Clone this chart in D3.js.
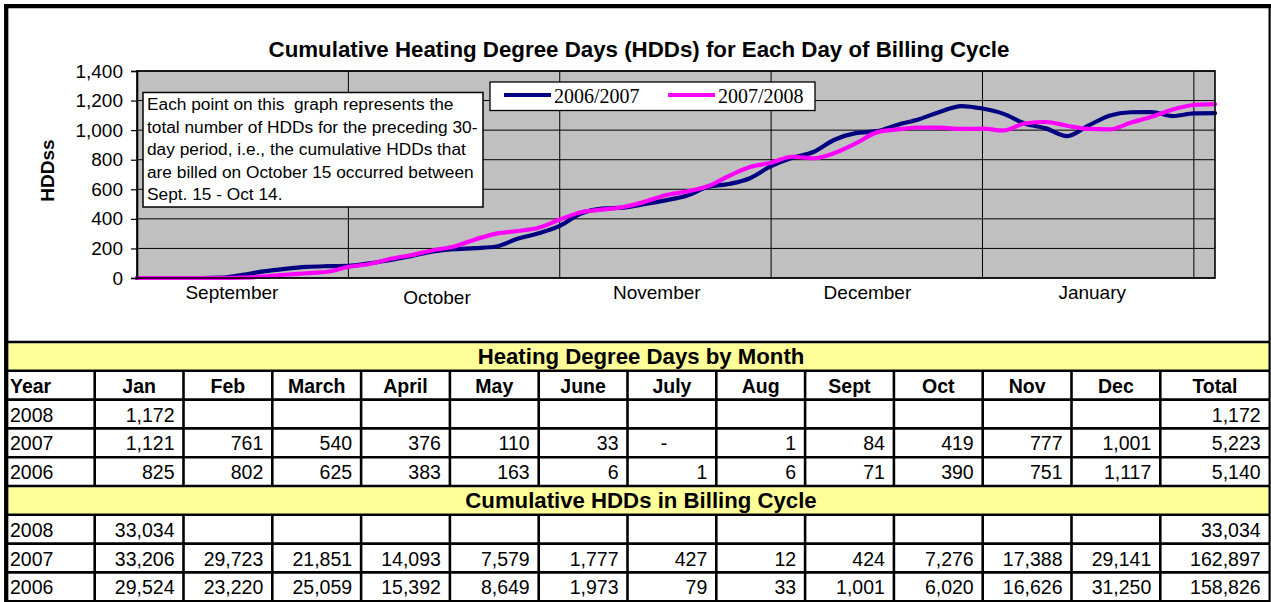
<!DOCTYPE html>
<html>
<head>
<meta charset="utf-8">
<script src="https://cdn.jsdelivr.net/npm/d3@7"></script>
<style>
  html, body { margin: 0; padding: 0; background: #fff; }
  svg { display: block; }
</style>
</head>
<body>
<div id="chart"></div>
<script>
// ---------- DATA ----------
const chartTitle = "Cumulative Heating Degree Days (HDDs) for Each Day of Billing Cycle";
const yTitle = "HDDss";
const seriesNames = ["2006/2007", "2007/2008"];
// day index within billing chart (0 = start of September)
const days = [0,3,6,9,12,15,18,21,24,27,30,33,36,39,42,45,48,51,54,57,60,63,66,69,72,75,78,81,84,87,90,93,96,99,102,105,108,111,114,117,120,123,126,129,132,135,138,141,144,147,150,153];
const hdd0607 = [0,0,0,0,2,22,45,62,75,80,82,100,122,150,179,195,202,213,265,302,352,436,470,476,500,525,556,615,636,675,756,813,852,935,980,993,1037,1074,1125,1163,1146,1110,1045,1012,960,1030,1098,1121,1122,1095,1113,1115];
const hdd0708 = [0,0,0,0,0,2,10,22,32,42,75,95,130,156,188,213,261,300,318,340,395,445,462,480,515,560,585,620,690,750,780,820,810,845,910,985,1005,1018,1017,1008,1010,998,1045,1055,1030,1008,1005,1050,1090,1140,1170,1176];
const yTicks = [0,200,400,600,800,1000,1200,1400];
const monthGridDays = [30,60,90,120,150];
const monthLabels = ["September","October","November","December","January"];
const monthLabelDays = [13.4,42.5,73.7,103.6,135.5];
const noteLines = [
  "Each point on this  graph represents the",
  "total number of HDDs for the preceding 30-",
  "day period, i.e., the cumulative HDDs that",
  "are billed on October 15 occurred between",
  "Sept. 15 - Oct 14."
];

const tableTitle1 = "Heating Degree Days by Month";
const tableTitle2 = "Cumulative HDDs in Billing Cycle";
const tableMonths = ["Jan","Feb","March","April","May","June","July","Aug","Sept","Oct","Nov","Dec"];
const years = ["2008","2007","2006"];
const monthly2008 = [1172,null,null,null,null,null,null,null,null,null,null,null];
const monthly2007 = [1121,761,540,376,110,33,0,1,84,419,777,1001];
const monthly2006 = [825,802,625,383,163,6,1,6,71,390,751,1117];
const monthlyTotals = [1172,5223,5140];
const cum2008 = [33034,null,null,null,null,null,null,null,null,null,null,null];
const cum2007 = [33206,29723,21851,14093,7579,1777,427,12,424,7276,17388,29141];
const cum2006 = [29524,23220,25059,15392,8649,1973,79,33,1001,6020,16626,31250];
const cumTotals = [33034,162897,158826];

// ---------- DRAW ----------
const W = 1271, H = 602;
const SANS = "'Liberation Sans', Arial, sans-serif";
const SERIF = "'Liberation Serif', 'Times New Roman', serif";

const svg = d3.select("#chart").append("svg").attr("width", W).attr("height", H);
svg.append("rect").attr("width", W).attr("height", H).attr("fill", "#fff");

const plot = { left: 137, right: 1215, top: 71, bottom: 278 };
const x = d3.scaleLinear().domain([0, 153]).range([plot.left, plot.right]);
const y = d3.scaleLinear().domain([0, 1400]).range([plot.bottom, plot.top]);

// title
svg.append("text").attr("x", 639).attr("y", 57).attr("text-anchor", "middle")
  .attr("font-family", SANS).attr("font-weight", "bold").attr("font-size", 22.3)
  .text(chartTitle);

// plot background
svg.append("rect").attr("x", plot.left).attr("y", plot.top)
  .attr("width", plot.right - plot.left).attr("height", plot.bottom - plot.top)
  .attr("fill", "#C0C0C0");

// horizontal gridlines
svg.append("g").selectAll("line").data(yTicks).join("line")
  .attr("x1", plot.left).attr("x2", plot.right)
  .attr("y1", d => y(d)).attr("y2", d => y(d))
  .attr("stroke", "#000").attr("stroke-width", 1);
// vertical gridlines
svg.append("g").selectAll("line").data(monthGridDays).join("line")
  .attr("x1", d => x(d)).attr("x2", d => x(d))
  .attr("y1", plot.top).attr("y2", plot.bottom)
  .attr("stroke", "#000").attr("stroke-width", 1);

// series lines
const series = [
  { name: seriesNames[0], values: hdd0607, color: "#000080" },
  { name: seriesNames[1], values: hdd0708, color: "#FF00FF" }
];
const line = d3.line().x((d, i) => x(days[i])).y(d => y(d)).curve(d3.curveMonotoneX);
svg.append("g").selectAll("path").data(series).join("path")
  .attr("d", d => line(d.values))
  .attr("fill", "none").attr("stroke", d => d.color).attr("stroke-width", 4.2)
  .attr("stroke-linejoin", "round").attr("stroke-linecap", "round");

// plot border
svg.append("rect").attr("x", plot.left).attr("y", plot.top)
  .attr("width", plot.right - plot.left).attr("height", plot.bottom - plot.top)
  .attr("fill", "none").attr("stroke", "#000").attr("stroke-width", 1.6);

// y axis
const yAxis = svg.append("g").attr("transform", `translate(${plot.left},0)`)
  .call(d3.axisLeft(y).tickValues(yTicks).tickFormat(d3.format(",")).tickSize(6).tickPadding(8));
yAxis.select(".domain").attr("stroke", "#000").attr("stroke-width", 1.6);
yAxis.selectAll(".tick line").attr("stroke", "#000").attr("stroke-width", 1.2);
yAxis.selectAll(".tick text").attr("font-family", SANS).attr("font-size", 19).attr("fill", "#000");

// x axis month labels
const xAxis = svg.append("g").attr("transform", `translate(0,${plot.bottom})`)
  .call(d3.axisBottom(x).tickValues(monthLabelDays).tickFormat((d, i) => monthLabels[i]).tickSize(0));
xAxis.select(".domain").remove();
xAxis.selectAll(".tick text").attr("font-family", SANS).attr("font-size", 19).attr("fill", "#000")
  .attr("dy", null).attr("y", (d, i) => i === 1 ? 26 : 21);

// y title
svg.append("text").attr("transform", "translate(54,170.5) rotate(-90)")
  .attr("text-anchor", "middle").attr("font-family", SANS).attr("font-weight", "bold")
  .attr("font-size", 19).text(yTitle);

// note box
svg.append("rect").attr("x", 143).attr("y", 92.5).attr("width", 340).attr("height", 114.5)
  .attr("fill", "#fff").attr("stroke", "#000").attr("stroke-width", 1.5);
svg.append("g").selectAll("text").data(noteLines).join("text")
  .attr("x", 147).attr("y", (d, i) => 110 + i * 22.5)
  .attr("font-family", SANS).attr("font-size", 17.3).attr("xml:space", "preserve")
  .style("white-space", "pre").text(d => d);

// legend
const leg = svg.append("g");
leg.append("rect").attr("x", 490).attr("y", 82).attr("width", 325).attr("height", 28.5)
  .attr("fill", "#fff").attr("stroke", "#000").attr("stroke-width", 1.3);
const legItems = leg.selectAll("g").data(series).join("g")
  .attr("transform", (d, i) => `translate(${i === 0 ? 504 : 668},95)`);
legItems.append("line").attr("x1", 0).attr("x2", 47).attr("y1", 0).attr("y2", 0)
  .attr("stroke", d => d.color).attr("stroke-width", 4.2);
legItems.append("text").attr("x", 50).attr("y", 8)
  .attr("font-family", SERIF).attr("font-size", 20).text(d => d.name);

// ---------- TABLE ----------
const tTop = 342, rowH = 28.8;
const colX = d3.range(13).map(i => 94.7 + i * 88.8); // column separator positions (layout)
const leftX = 6.2, rightX = 1269.6;
const rows = [
  { type: "title", text: tableTitle1 },
  { type: "header" },
  { type: "data", year: years[0], vals: monthly2008, total: monthlyTotals[0] },
  { type: "data", year: years[1], vals: monthly2007, total: monthlyTotals[1] },
  { type: "data", year: years[2], vals: monthly2006, total: monthlyTotals[2] },
  { type: "title", text: tableTitle2 },
  { type: "data", year: years[0], vals: cum2008, total: cumTotals[0] },
  { type: "data", year: years[1], vals: cum2007, total: cumTotals[1] },
  { type: "data", year: years[2], vals: cum2006, total: cumTotals[2] }
];
const tbl = svg.append("g");
const fmt = d3.format(",");
rows.forEach((r, ri) => {
  const y0 = tTop + ri * rowH, y1 = y0 + rowH;
  const base = y1 - 6.8;
  if (r.type === "title") {
    tbl.append("rect").attr("x", leftX).attr("y", y0).attr("width", rightX - leftX).attr("height", rowH)
      .attr("fill", "#FFFF99");
    tbl.append("text").attr("x", 641).attr("y", base).attr("text-anchor", "middle")
      .attr("font-family", SANS).attr("font-weight", "bold").attr("font-size", 22.2).text(r.text);
    return;
  }
  // vertical separators
  tbl.append("g").selectAll("line").data(colX).join("line")
    .attr("x1", d => d).attr("x2", d => d).attr("y1", y0).attr("y2", y1)
    .attr("stroke", "#000").attr("stroke-width", 2.6);
  if (r.type === "header") {
    tbl.append("text").attr("x", 10).attr("y", base).attr("font-family", SANS)
      .attr("font-weight", "bold").attr("font-size", 19.5).text("Year");
    const hdr = tableMonths.concat(["Total"]);
    tbl.append("g").selectAll("text").data(hdr).join("text")
      .attr("x", (d, i) => ((colX[i]) + (i < 12 ? colX[i + 1] : rightX)) / 2)
      .attr("y", base).attr("text-anchor", "middle").attr("font-family", SANS)
      .attr("font-weight", "bold").attr("font-size", 19.5).text(d => d);
    return;
  }
  tbl.append("text").attr("x", 10).attr("y", base).attr("font-family", SANS)
    .attr("font-size", 19.5).text(r.year);
  const cells = r.vals.concat([r.total]);
  tbl.append("g").selectAll("text").data(cells).join("text")
    .attr("x", (d, i) => {
      const rx = i < 12 ? colX[i + 1] : rightX;
      return d === 0 ? (colX[i] + rx) / 2 - 8 : rx - 9;
    })
    .attr("y", base)
    .attr("text-anchor", d => d === 0 ? "middle" : "end")
    .attr("font-family", SANS).attr("font-size", 19.5)
    .text(d => d === null ? "" : (d === 0 ? "-" : fmt(d)));
});
// horizontal table lines
tbl.append("g").selectAll("line").data(d3.range(rows.length + 1)).join("line")
  .attr("x1", leftX).attr("x2", rightX)
  .attr("y1", i => tTop + i * rowH).attr("y2", i => tTop + i * rowH)
  .attr("stroke", "#000").attr("stroke-width", 2.6);

// outer frame
svg.append("line").attr("x1", 4).attr("x2", W).attr("y1", 6.2).attr("y2", 6.2)
  .attr("stroke", "#000").attr("stroke-width", 4.3);
svg.append("line").attr("x1", leftX).attr("x2", leftX).attr("y1", 4).attr("y2", H)
  .attr("stroke", "#000").attr("stroke-width", 4.3);
svg.append("line").attr("x1", rightX).attr("x2", rightX).attr("y1", 4).attr("y2", H)
  .attr("stroke", "#000").attr("stroke-width", 2.2);
</script>
</body>
</html>
